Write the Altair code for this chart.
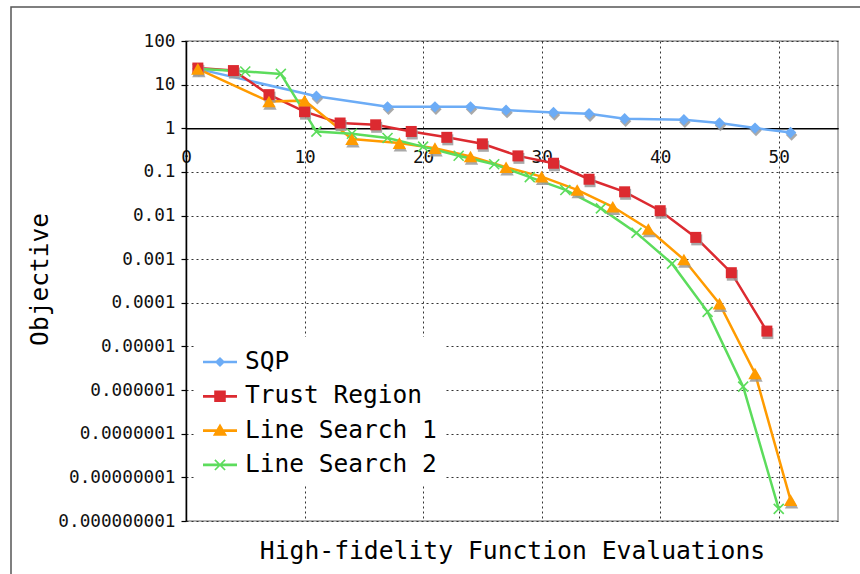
import altair as alt
import pandas as pd
import math

# ---------------- data ----------------
series_names = ["SQP", "Trust Region", "Line Search 1", "Line Search 2"]
series_colors = ["#6cacf6", "#dc2a30", "#ff9b00", "#5cdc5c"]

sqp_x = [1, 11, 17, 21, 24, 27, 31, 34, 37, 42, 45, 48, 51]
sqp_y = [23, 5.4, 3.1, 3.1, 3.1, 2.6, 2.3, 2.15, 1.65, 1.57, 1.32, 1.01, 0.80]

tr_x = [1, 4, 7, 10, 13, 16, 19, 22, 25, 28, 31, 34, 37, 40, 43, 46, 49]
tr_y = [24, 21, 5.9, 2.4, 1.32, 1.2, 0.845, 0.62, 0.44, 0.233, 0.158, 0.068,
        0.035, 0.0129, 0.00316, 0.00049, 2.25e-5]

ls1_x = [1, 7, 10, 14, 18, 21, 24, 27, 30, 33, 36, 39, 42, 45, 48, 51]
ls1_y = [23, 4.1, 4.3, 0.565, 0.457, 0.35, 0.225, 0.128, 0.078, 0.0386, 0.0159,
         0.0049, 0.00098, 9.6e-5, 2.4e-6, 3.0e-9]

ls2_x = [1, 5, 8, 11, 14, 17, 20, 23, 26, 29, 32, 35, 38, 41, 44, 47, 50]
ls2_y = [23, 20, 17.6, 0.84, 0.75, 0.6, 0.38, 0.235, 0.15, 0.076, 0.0386, 0.0146,
         0.004, 0.00079, 6.2e-5, 1.2e-6, 1.9e-9]

x_ticks = [0, 10, 20, 30, 40, 50]
y_ticks = [1e-9, 1e-8, 1e-7, 1e-6, 1e-5, 1e-4, 1e-3, 1e-2, 1e-1, 1, 10, 100]

rows = []
for name, xs, ys in [("SQP", sqp_x, sqp_y), ("Trust Region", tr_x, tr_y),
                     ("Line Search 1", ls1_x, ls1_y), ("Line Search 2", ls2_x, ls2_y)]:
    for xv, yv in zip(xs, ys):
        rows.append({"series": name, "x": xv, "y": yv})
df = pd.DataFrame(rows)

# ---------------- styling ----------------
FONT = "DejaVu Sans Mono"
W, H = 652, 480
y_of_one = H * (math.log10(100) - math.log10(1)) / (math.log10(100) - math.log10(1e-9))
x_axis_offset = -(H - y_of_one)

x_enc = alt.X(
    "x:Q",
    scale=alt.Scale(domain=[0, 55], nice=False, zero=False),
    axis=alt.Axis(
        values=x_ticks, format="d", offset=x_axis_offset, ticks=False, tickSize=0,
        labelPadding=20, labelFlush=False, labelFontSize=17.7, labelColor="#111",
        labelFont=FONT, domainColor="black", domainWidth=1.5,
        grid=True, gridColor="#333", gridDash=[2, 3], gridWidth=1,
        title="High-fidelity Function Evaluations", titleFont=FONT,
        titleFontSize=24.7, titleFontWeight="normal", titleColor="black",
        titleY=423, titleBaseline="middle",
    ),
)
y_enc = alt.Y(
    "y:Q",
    scale=alt.Scale(type="log", domain=[1e-9, 100], nice=False),
    axis=alt.Axis(
        values=y_ticks, labelExpr="format(datum.value, '.9~f')",
        labelFontSize=17.7, labelColor="#111", labelFont=FONT, labelPadding=6,
        tickSize=5, tickColor="black", tickWidth=1.2,
        domainColor="black", domainWidth=1.5,
        grid=True, gridColor="#333", gridDash=[2, 3], gridWidth=1,
        title="Objective", titleFont=FONT, titleFontSize=24.5,
        titleFontWeight="normal", titleColor="black",
        titleX=-146, titleY=238, titleAngle=-90, titleBaseline="middle",
        titleAlign="center",
    ),
)
color_scale = alt.Scale(domain=series_names, range=series_colors)
color_plain = alt.Color("series:N", scale=color_scale)

base = alt.Chart(df)

# legend symbols: line segment + marker, as unit-square paths
line_seg = "M-1,-0.08L1,-0.08L1,0.08L-1,0.08Z"
legend_paths = [
    line_seg + "M0,-0.3L0.3,0L0,0.3L-0.3,0Z",
    line_seg + "M-0.34,-0.34L0.34,-0.34L0.34,0.34L-0.34,0.34Z",
    line_seg + "M0,-0.42L0.42,0.3L-0.42,0.3Z",
    line_seg + "M-0.265,-0.335L0.335,0.265L0.265,0.335L-0.335,-0.265Z"
               "M0.335,-0.265L-0.265,0.335L-0.335,0.265L0.265,-0.335Z",
]
legend_props = dict(
    orient="none", legendX=9, legendY=296, title=None, fillColor="white",
    padding=8, labelFont=FONT, labelFontSize=24.5, labelColor="black",
    labelOffset=8, symbolSize=1156, rowPadding=5.3, symbolStrokeWidth=0,
    labelLimit=400,
)
legend_layer = base.transform_filter("false").mark_point(filled=True, opacity=1).encode(
    x=x_enc, y=y_enc,
    color=alt.Color("series:N", scale=color_scale, legend=alt.Legend(**legend_props)),
    shape=alt.Shape("series:N", scale=alt.Scale(domain=series_names, range=legend_paths),
                    legend=alt.Legend(**legend_props)),
)

frame = alt.Chart(alt.Data(values=[{"a": 1}])).mark_rect(
    fillOpacity=0, stroke="#555", strokeWidth=1.5
).encode(x=alt.value(-175), x2=alt.value(700), y=alt.value(-34), y2=alt.value(560))

lines = base.mark_line(strokeWidth=2.5).encode(
    x=x_enc, y=y_enc, color=color_plain, order="x:Q"
)

marker_shapes = ["diamond", "square", "triangle-up", "M-1,-1L1,1M-1,1L1,-1"]
marker_sizes = [130, 121, 180, 100]

shadow_layers = []
marker_layers = []
for name, shp, sz in zip(series_names, marker_shapes, marker_sizes):
    sub = base.transform_filter(alt.datum.series == name)
    if name != "Line Search 2":
        shadow_layers.append(
            sub.mark_point(shape=shp, size=sz, filled=True, color="#9a9a9a",
                           opacity=0.85, xOffset=1, yOffset=2.5).encode(x=x_enc, y=y_enc)
        )
        marker_layers.append(
            sub.mark_point(shape=shp, size=sz, filled=True, opacity=1).encode(
                x=x_enc, y=y_enc, color=color_plain)
        )
    else:
        marker_layers.append(
            sub.mark_point(shape=shp, size=sz, filled=False, opacity=1,
                           strokeWidth=1.6).encode(x=x_enc, y=y_enc, color=color_plain)
        )

# order markers: green first, then blue, red, orange
marker_layers = [marker_layers[3], marker_layers[0], marker_layers[1], marker_layers[2]]

chart = alt.layer(
    frame, legend_layer, lines, *shadow_layers, *marker_layers
).properties(
    width=W, height=H,
    autosize=alt.AutoSizeParams(type="none"),
    padding={"left": 186, "top": 41, "right": 22, "bottom": 53},
).configure(font=FONT).configure_view(stroke="#999", strokeWidth=1.5)

chart.save("out.html", embed_options={"renderer": "svg", "actions": False})
